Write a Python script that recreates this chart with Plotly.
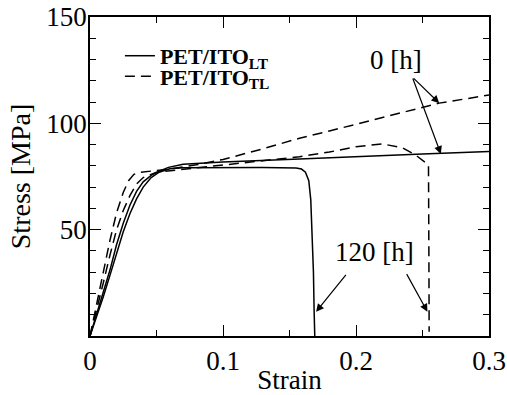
import plotly.graph_objects as go

# Data (strain, stress [MPa])
lt0_strain = [0, 0.005, 0.01, 0.015, 0.02, 0.025, 0.03, 0.035, 0.04, 0.046, 0.052, 0.059, 0.07,
              0.1, 0.1575, 0.2, 0.25, 0.3]
lt0_stress = [0, 10, 20, 31, 43, 53, 61.5, 68, 72.5, 75.5, 77.5, 79.3, 80.8,
              81.8, 83.2, 84.4, 85.6, 86.8]

lt120_strain = [0, 0.005, 0.01, 0.015, 0.02, 0.025, 0.03, 0.035, 0.04, 0.046, 0.052, 0.06, 0.07,
                0.1, 0.13, 0.155, 0.159, 0.162, 0.1645, 0.166, 0.167, 0.168, 0.1685, 0.169]
lt120_stress = [0, 9, 18.5, 28.5, 39, 49, 57.5, 64.5, 70, 74.5, 77, 78.6, 79.1,
                79.2, 79.2, 79.0, 78.5, 77, 73, 64, 50, 30, 12, 0]

tl0_strain = [0, 0.005, 0.01, 0.015, 0.02, 0.025, 0.029, 0.033, 0.038, 0.045, 0.06, 0.08,
              0.1, 0.13, 0.1575, 0.18, 0.22, 0.2625, 0.3]
tl0_stress = [0, 15, 29.5, 45, 58, 67.5, 73, 76, 77, 77.5, 78.5, 80.5,
              83, 88, 93, 96.4, 102.8, 109.5, 113.3]

tl120_strain = [0, 0.005, 0.01, 0.015, 0.02, 0.025, 0.03, 0.035, 0.04, 0.05, 0.065, 0.08,
                0.1, 0.125, 0.1575, 0.18, 0.2, 0.22, 0.235, 0.245, 0.2545, 0.2548, 0.255]
tl120_stress = [0, 12, 25, 38, 50, 59, 66, 71.5, 74.5, 77, 78, 79,
                80.5, 82, 84.3, 86.5, 89, 90.3, 88.5, 85, 80.5, 40, 2]

legend_names = ["PET/ITO<sub>LT</sub>", "PET/ITO<sub>TL</sub>"]

x_ticks = [0, 0.1, 0.2, 0.3]
x_ticktext = ["0", "0.1", "0.2", "0.3"]
y_ticks = [50, 100, 150]
y_ticktext = ["50", "100", "150"]

FONT = "Liberation Serif"
DASH = "10px,6px"

fig = go.Figure()
fig.add_trace(go.Scatter(x=lt0_strain, y=lt0_stress, mode="lines", name=legend_names[0],
                         line=dict(color="black", width=1.5), legend="legend", showlegend=True))
fig.add_trace(go.Scatter(x=lt120_strain, y=lt120_stress, mode="lines", name=legend_names[0],
                         line=dict(color="black", width=1.5), showlegend=False))
fig.add_trace(go.Scatter(x=tl0_strain, y=tl0_stress, mode="lines", name=legend_names[1],
                         line=dict(color="black", width=1.5, dash=DASH), legend="legend2", showlegend=True))
fig.add_trace(go.Scatter(x=tl120_strain, y=tl120_stress, mode="lines", name=legend_names[1],
                         line=dict(color="black", width=1.5, dash=DASH), showlegend=False))

# Annotations with arrows
ann_style = dict(showarrow=True, arrowhead=2, arrowsize=1.3, arrowwidth=1.2, arrowcolor="black",
                 axref="x", ayref="y", xref="x", yref="y", text="")
fig.add_annotation(x=0.2626, y=109.5, ax=0.2423, ay=121.8, **ann_style)
fig.add_annotation(x=0.2638, y=85.6, ax=0.2423, ay=121.8, **ann_style)
fig.add_annotation(x=0.1700, y=11.4, ax=0.1933, ay=29.5, **ann_style)
fig.add_annotation(x=0.2537, y=11.4, ax=0.2375, ay=29.8, **ann_style)
fig.add_annotation(x=0.2303, y=129.8, text="0 [h]", showarrow=False,
                   font=dict(family=FONT, size=27, color="black"))
fig.add_annotation(x=0.2138, y=39.5, text="120 [h]", showarrow=False,
                   font=dict(family=FONT, size=27, color="black"))

axis_common = dict(showline=True, linecolor="black", linewidth=1.5, mirror="ticks",
                   ticks="inside", tickcolor="black", tickwidth=1.2, showgrid=False, zeroline=False,
                   tickmode="array", automargin=False)

fig.update_xaxes(range=[0, 0.3], tickvals=x_ticks, ticktext=x_ticktext, ticklen=11,
                 minor=dict(tick0=0, dtick=0.05, ticklen=6, ticks="inside", tickcolor="black", tickwidth=1.2),
                 tickfont=dict(family=FONT, size=27, color="black"),
                 title=dict(text="Strain", font=dict(family=FONT, size=27, color="black"), standoff=4),
                 **axis_common)
fig.update_yaxes(range=[0, 150], tickvals=y_ticks, ticktext=y_ticktext, ticklen=11,
                 minor=dict(tick0=0, dtick=10, ticklen=6, ticks="inside", tickcolor="black", tickwidth=1.2),
                 tickfont=dict(family=FONT, size=27, color="black"), ticklabelstandoff=-4,
                 title=dict(text="Stress [MPa]", font=dict(family=FONT, size=28, color="black"), standoff=8),
                 **axis_common)

leg_common = dict(xanchor="left", yanchor="middle", bgcolor="rgba(0,0,0,0)",
                  font=dict(family=FONT, size=22, color="black", weight="bold"))
fig.update_layout(
    width=507, height=395,
    margin=dict(l=90, r=18, t=17, b=59),
    plot_bgcolor="white", paper_bgcolor="white",
    font=dict(family=FONT, color="black"),
    legend=dict(x=0.075, y=0.878, **leg_common),
    legend2=dict(x=0.075, y=0.814, **leg_common),
    showlegend=True,
)

fig.write_html("out.html")
